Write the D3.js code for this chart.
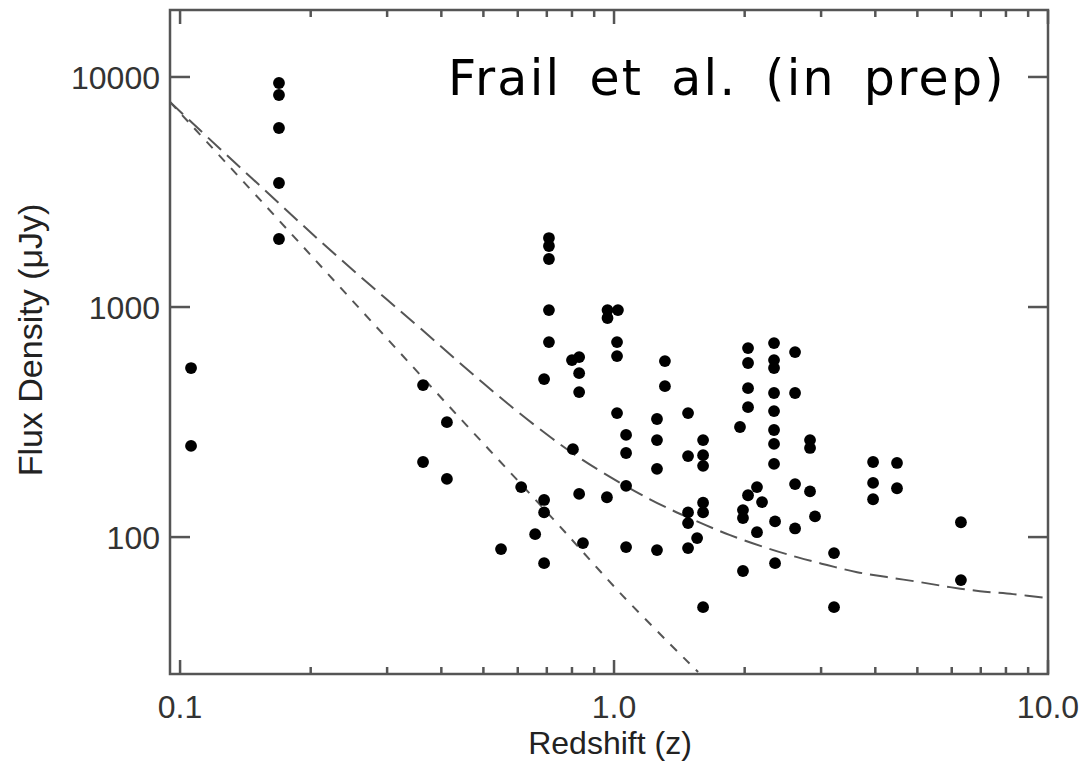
<!DOCTYPE html>
<html>
<head>
<meta charset="utf-8">
<script src="https://cdn.jsdelivr.net/npm/d3@7"></script>
<style>
html,body{margin:0;padding:0;background:#fff;}
svg{display:block;}
</style>
</head>
<body>
<svg id="chart" width="1085" height="762"></svg>
<script>
// ---- data ----
const title = "Frail et al. (in prep)";
const xLabel = "Redshift (z)";
const yLabel = "Flux Density (\u03bcJy)";
const xDomain = [0.0948, 10];
const yDomain = [25.4, 19550];
const xMajorTicks = [0.1, 1, 10];
const xMajorLabels = ["0.1", "1.0", "10.0"];
const xMinorTicks = [0.2,0.3,0.4,0.5,0.6,0.7,0.8,0.9,2,3,4,5,6,7,8,9];
const yMajorTicks = [100, 1000, 10000];
const yMajorLabels = ["100", "1000", "10000"];

// detections: redshift z
const pointZ = [
  0.106,0.106,
  0.169,0.169,0.169,0.169,0.169,
  0.363,0.363,0.412,0.412,
  0.549,0.611,0.658,
  0.708,0.708,0.708,0.708,0.708,0.690,0.690,0.690,0.690,
  0.804,0.831,0.800,0.831,0.831,0.831,0.848,
  0.966,1.021,0.966,
  1.016,1.016,1.016,
  1.066,1.066,1.066,1.066,
  0.963,
  1.256,1.256,1.256,1.256,
  1.310,1.310,
  1.481,1.481,1.481,1.481,1.481,
  1.554,
  1.604,1.604,1.604,1.604,1.604,1.604,
  1.951,1.982,1.982,1.982,
  2.036,2.036,2.036,2.036,2.036,
  2.135,2.135,2.193,
  2.337,2.337,2.337,2.337,2.337,2.337,2.337,2.337,2.350,2.350,
  2.613,2.613,2.613,2.613,
  2.829,2.829,2.829,2.905,
  3.213,3.213,
  3.953,3.953,3.953,
  4.488,4.488,
  6.30,6.30
];
// detections: flux density (microJy)
const pointFlux = [
  543,249,
  9417,8350,6002,3461,1976,
  458,212,316,179,
  88.7,165,103,
  1995,1842,1617,970,704,486,145,128,77,
  241,606,588,516,427,154,94.2,
  970,970,896,
  704,612,346,
  278,232,167,90.5,
  149,
  326,264,198,87.8,
  582,453,
  346,225,128,115,89.6,
  99,
  264,227,204,141,128,49.6,
  301,131,121,71.2,
  663,571,444,367,152,
  165,105,142,
  697,588,543,423,353,292,254,208,117,77,
  637,423,170,109,
  264,244,158,123,
  85.2,49.6,
  212,172,146,
  210,163,
  116,65
];

// model curve 1 (steep, short dashes)
const curveLowZ = [0.0948,0.1553,0.2464,0.412,0.7235,1.049,1.562];
const curveLowFlux = [7786,2833,1094,379,120,55.4,25.9];
// model curve 2 (flattening, long dashes)
const curveHighZ = [0.0948,0.1237,0.1612,0.2102,0.2741,0.3573,0.4993,0.6647,0.848,1.210,1.554,1.851,2.252,2.641,3.096,3.631,4.256,5.072,5.946,6.971,8.307,10];
const curveHighFlux = [7786,4864,3069,1936,1246,810,467,301,216,146,117,102,89.6,81.8,75.6,70.4,67.0,63.7,60.6,58.2,56.5,54.3];

// ---- drawing ----
const svg = d3.select("#chart");
const L = 170, R = 1048, T = 10, B = 674;
const axisColor = "#555";
const x = d3.scaleLog().domain(xDomain).range([L, R]);
const y = d3.scaleLog().domain(yDomain).range([B, T]);

svg.append("defs").append("clipPath").attr("id","plotclip")
  .append("rect").attr("x",L).attr("y",T).attr("width",R-L).attr("height",B-T);

const line = d3.line().x(d => x(d[0])).y(d => y(d[1])).curve(d3.curveCatmullRom.alpha(0.5));
const lowPts = curveLowZ.map((z,i)=>[z, curveLowFlux[i]]);
const highPts = curveHighZ.map((z,i)=>[z, curveHighFlux[i]]);

const cg = svg.append("g").attr("clip-path","url(#plotclip)");
cg.append("path").attr("d", line(lowPts)).attr("fill","none")
  .attr("stroke","#555").attr("stroke-width",2).attr("stroke-dasharray","9,9");
cg.append("path").attr("d", line(highPts)).attr("fill","none")
  .attr("stroke","#555").attr("stroke-width",2).attr("stroke-dasharray","18,8");

// points
const pts = pointZ.map((z,i)=>[z, pointFlux[i]]);
cg.selectAll("circle.pt").data(pts).enter().append("circle")
  .attr("class","pt").attr("cx",d=>x(d[0])).attr("cy",d=>y(d[1]))
  .attr("r",5.9).attr("fill","#000");

// frame
svg.append("rect").attr("x",L).attr("y",T).attr("width",R-L).attr("height",B-T)
  .attr("fill","none").attr("stroke",axisColor).attr("stroke-width",2.5);

// ticks (all four sides, inward)
const tg = svg.append("g").attr("stroke",axisColor).attr("stroke-width",2.5);
xMajorTicks.forEach(v=>{
  tg.append("line").attr("x1",x(v)).attr("x2",x(v)).attr("y1",B).attr("y2",B-14);
  tg.append("line").attr("x1",x(v)).attr("x2",x(v)).attr("y1",T).attr("y2",T+14);
});
xMinorTicks.forEach(v=>{
  tg.append("line").attr("x1",x(v)).attr("x2",x(v)).attr("y1",B).attr("y2",B-7);
  tg.append("line").attr("x1",x(v)).attr("x2",x(v)).attr("y1",T).attr("y2",T+7);
});
yMajorTicks.forEach(v=>{
  tg.append("line").attr("x1",L).attr("x2",L+20).attr("y1",y(v)).attr("y2",y(v));
  tg.append("line").attr("x1",R).attr("x2",R-20).attr("y1",y(v)).attr("y2",y(v));
});

const font = "'Liberation Sans', Arial, Helvetica, sans-serif";
// x tick labels
svg.selectAll("text.xl").data(xMajorTicks).enter().append("text")
  .attr("class","xl").attr("x",d=>x(d)).attr("y",718)
  .attr("text-anchor","middle").attr("font-family",font).attr("font-size",32)
  .attr("fill","#333").text((d,i)=>xMajorLabels[i]);
// y tick labels
svg.selectAll("text.yl").data(yMajorTicks).enter().append("text")
  .attr("class","yl").attr("x",160).attr("y",d=>y(d)+12)
  .attr("text-anchor","end").attr("font-family",font).attr("font-size",32)
  .attr("fill","#333").text((d,i)=>yMajorLabels[i]);

// axis titles
svg.append("text").attr("x",(L+R)/2 + 1).attr("y",754).attr("text-anchor","middle")
  .attr("font-family",font).attr("font-size",32).attr("fill","#222").text(xLabel);
svg.append("text").attr("transform","translate(42,340) rotate(-90)")
  .attr("text-anchor","middle").attr("font-family",font).attr("font-size",34)
  .attr("fill","#222").text(yLabel);

// title
svg.append("text").attr("x",448).attr("y",95)
  .attr("font-family","'DejaVu Sans', sans-serif").attr("font-size",49)
  .attr("letter-spacing",2.3).attr("word-spacing",10).attr("fill","#000").text(title);
</script>
</body>
</html>
